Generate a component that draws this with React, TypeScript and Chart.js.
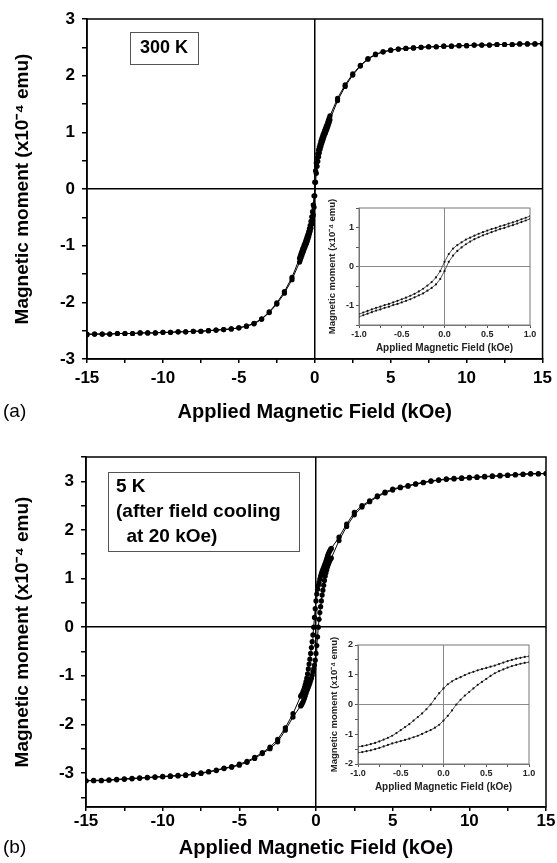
import { useEffect, useRef } from "react";
import { Chart, registerables } from "chart.js";

Chart.register(...registerables);

const FONT = '"Liberation Sans", Arial, Helvetica, sans-serif';

// ---------- Field values (kOe) ----------
const FIELD_OUTER_NEG = [-15, -14.5, -14, -13.5, -13, -12.5, -12, -11.5, -11, -10.5, -10, -9.5, -9, -8.5, -8, -7.5, -7, -6.5, -6, -5.5, -5, -4.5, -4, -3.5, -3, -2.5, -2, -1.5];
const FIELD_INNER = [-1, -0.95, -0.9, -0.85, -0.8, -0.75, -0.7, -0.65, -0.6, -0.55, -0.5, -0.45, -0.4, -0.35, -0.3, -0.25, -0.2, -0.15, -0.1, -0.05, 0, 0.05, 0.1, 0.15, 0.2, 0.25, 0.3, 0.35, 0.4, 0.45, 0.5, 0.55, 0.6, 0.65, 0.7, 0.75, 0.8, 0.85, 0.9, 0.95, 1];
const FIELD_OUTER_POS = [1.5, 2, 2.5, 3, 3.5, 4, 4.5, 5, 5.5, 6, 6.5, 7, 7.5, 8, 8.5, 9, 9.5, 10, 10.5, 11, 11.5, 12, 12.5, 13, 13.5, 14, 14.5, 15];

// ---------- (a) 300 K, moment (x1e-4 emu) ----------
const M300_DOWN_NEG = [-2.57, -2.56, -2.56, -2.56, -2.55, -2.55, -2.55, -2.54, -2.54, -2.54, -2.53, -2.53, -2.52, -2.52, -2.51, -2.51, -2.5, -2.49, -2.48, -2.47, -2.45, -2.42, -2.37, -2.29, -2.17, -2.01, -1.81, -1.56];
const M300_DOWN_INNER = [-1.22, -1.18, -1.14, -1.1, -1.06, -1.03, -0.99, -0.96, -0.92, -0.88, -0.84, -0.8, -0.75, -0.7, -0.64, -0.57, -0.49, -0.4, -0.28, -0.12, 0.12, 0.32, 0.46, 0.55, 0.62, 0.69, 0.74, 0.79, 0.84, 0.88, 0.92, 0.96, 0.99, 1.03, 1.06, 1.1, 1.13, 1.17, 1.21, 1.25, 1.29];
const M300_DOWN_POS = [1.6, 1.84, 2.03, 2.18, 2.3, 2.38, 2.42, 2.45, 2.47, 2.48, 2.49, 2.5, 2.51, 2.51, 2.52, 2.52, 2.53, 2.53, 2.54, 2.54, 2.54, 2.55, 2.55, 2.55, 2.56, 2.56, 2.56, 2.56];
const M300_UP_NEG = [-2.56, -2.56, -2.56, -2.56, -2.55, -2.55, -2.55, -2.54, -2.54, -2.54, -2.53, -2.53, -2.52, -2.52, -2.51, -2.51, -2.5, -2.49, -2.48, -2.47, -2.45, -2.42, -2.38, -2.3, -2.18, -2.03, -1.84, -1.6];
const M300_UP_INNER = [-1.29, -1.25, -1.21, -1.17, -1.13, -1.1, -1.06, -1.03, -0.99, -0.96, -0.92, -0.88, -0.84, -0.79, -0.74, -0.69, -0.62, -0.55, -0.46, -0.32, -0.12, 0.12, 0.28, 0.4, 0.49, 0.57, 0.64, 0.7, 0.75, 0.8, 0.84, 0.88, 0.92, 0.96, 0.99, 1.03, 1.06, 1.1, 1.14, 1.18, 1.22];
const M300_UP_POS = [1.56, 1.81, 2.01, 2.17, 2.29, 2.37, 2.42, 2.45, 2.47, 2.48, 2.49, 2.5, 2.51, 2.51, 2.52, 2.52, 2.53, 2.53, 2.54, 2.54, 2.54, 2.55, 2.55, 2.55, 2.56, 2.56, 2.56, 2.57];

// ---------- (b) 5 K after field cooling at 20 kOe ----------
const M5_DOWN_NEG = [-3.16, -3.15, -3.15, -3.14, -3.13, -3.12, -3.11, -3.1, -3.09, -3.08, -3.07, -3.06, -3.05, -3.04, -3.02, -3.0, -2.97, -2.94, -2.9, -2.87, -2.82, -2.76, -2.68, -2.58, -2.47, -2.31, -2.07, -1.78];
const M5_DOWN_INNER = [-1.42, -1.4, -1.37, -1.33, -1.29, -1.24, -1.18, -1.12, -1.05, -0.96, -0.86, -0.76, -0.66, -0.54, -0.42, -0.3, -0.16, 0.0, 0.2, 0.38, 0.54, 0.68, 0.78, 0.86, 0.92, 0.99, 1.05, 1.1, 1.15, 1.19, 1.23, 1.27, 1.31, 1.36, 1.41, 1.46, 1.5, 1.54, 1.57, 1.6, 1.62];
const M5_DOWN_POS = [1.85, 2.12, 2.36, 2.5, 2.6, 2.7, 2.78, 2.84, 2.88, 2.91, 2.95, 2.98, 3.01, 3.03, 3.05, 3.06, 3.07, 3.08, 3.09, 3.1, 3.11, 3.12, 3.13, 3.14, 3.15, 3.16, 3.16, 3.16];
const M5_UP_NEG = [-3.16, -3.16, -3.16, -3.15, -3.14, -3.13, -3.12, -3.11, -3.1, -3.09, -3.08, -3.07, -3.06, -3.05, -3.03, -3.01, -2.98, -2.95, -2.91, -2.88, -2.84, -2.78, -2.7, -2.6, -2.5, -2.36, -2.12, -1.85];
const M5_UP_INNER = [-1.62, -1.6, -1.57, -1.54, -1.5, -1.46, -1.41, -1.36, -1.31, -1.27, -1.23, -1.19, -1.15, -1.1, -1.05, -0.99, -0.92, -0.86, -0.78, -0.68, -0.54, -0.38, -0.2, 0.0, 0.16, 0.3, 0.42, 0.54, 0.66, 0.76, 0.86, 0.96, 1.05, 1.12, 1.18, 1.24, 1.29, 1.33, 1.37, 1.4, 1.42];
const M5_UP_POS = [1.78, 2.07, 2.31, 2.47, 2.58, 2.68, 2.76, 2.82, 2.87, 2.9, 2.94, 2.97, 3.0, 3.02, 3.04, 3.05, 3.06, 3.07, 3.08, 3.09, 3.1, 3.11, 3.12, 3.13, 3.14, 3.15, 3.15, 3.16];

// ---------- Ticks ----------
const MAIN_X_TICKS = [-15, -12.5, -10, -7.5, -5, -2.5, 0, 2.5, 5, 7.5, 10, 12.5, 15];
const MAIN_A_Y_TICKS = [-3, -2.5, -2, -1.5, -1, -0.5, 0, 0.5, 1, 1.5, 2, 2.5, 3];
const MAIN_B_Y_TICKS = [-3.5, -3, -2.5, -2, -1.5, -1, -0.5, 0, 0.5, 1, 1.5, 2, 2.5, 3, 3.5];
const INSET_X_TICKS = [-1, -0.75, -0.5, -0.25, 0, 0.25, 0.5, 0.75, 1];
const INSET_A_Y_TICKS = [-1.5, -1, -0.5, 0, 0.5, 1, 1.5];
const INSET_B_Y_TICKS = [-2, -1.5, -1, -0.5, 0, 0.5, 1, 1.5, 2];

const X_TITLE = "Applied Magnetic Field (kOe)";
const Y_TITLE = "Magnetic moment (x10\u207B\u2074 emu)";
const LABEL_A = ["300 K"];
const LABEL_B = ["5 K", "(after field cooling", "  at 20 kOe)"];

const pts = (xs: number[], ys: number[]) => xs.map((x, i) => ({ x, y: ys[i] }));
const isMult = (v: number, m: number) => Math.abs(v / m - Math.round(v / m)) < 1e-6;

function decor(spec: any) {
  return {
    id: "decor",
    afterDraw(chart: any) {
      const { ctx, chartArea: a } = chart;
      ctx.save();
      ctx.strokeStyle = spec.frameColor;
      ctx.lineWidth = spec.frameWidth;
      ctx.strokeRect(a.left, a.top, a.right - a.left, a.bottom - a.top);
      if (spec.box) {
        const b = spec.box;
        ctx.fillStyle = "#fff";
        ctx.fillRect(b.x, b.y, b.w, b.h);
        ctx.strokeStyle = "#555";
        ctx.lineWidth = 1;
        ctx.strokeRect(b.x + 0.5, b.y + 0.5, b.w, b.h);
        ctx.fillStyle = "#000";
        ctx.font = `bold ${b.size}px ${FONT}`;
        ctx.textBaseline = "middle";
        ctx.textAlign = b.align;
        b.lines.forEach((t: string, i: number) => ctx.fillText(t, b.tx, b.ty + i * b.lh));
      }
      if (spec.tag) {
        ctx.fillStyle = "#000";
        ctx.font = `${spec.tag.size}px ${FONT}`;
        ctx.textBaseline = "middle";
        ctx.textAlign = "left";
        ctx.fillText(spec.tag.text, spec.tag.x, spec.tag.y);
      }
      ctx.restore();
    },
  };
}

function mainConfig(p: any) {
  const zero = (c: any) => (c.tick && c.tick.value === 0 ? "#000" : "rgba(0,0,0,0)");
  return {
    type: "scatter",
    data: {
      datasets: p.series.map((s: any) => ({
        data: s,
        showLine: true,
        borderColor: "#000",
        borderWidth: 1,
        pointRadius: 2.6,
        pointBackgroundColor: "#000",
        pointBorderWidth: 0,
      })),
    },
    options: {
      responsive: false,
      animation: false,
      events: [],
      layout: { padding: { left: 0, top: p.top, right: p.right, bottom: 0 } },
      plugins: { legend: { display: false }, tooltip: { enabled: false } },
      scales: {
        x: {
          type: "linear",
          min: -15,
          max: 15,
          afterBuildTicks: (s: any) => { s.ticks = MAIN_X_TICKS.map((v) => ({ value: v })); },
          afterFit: (s: any) => { s.height = p.xHeight; },
          ticks: {
            autoSkip: false,
            maxRotation: 0,
            padding: p.xTickPad,
            color: "#000",
            font: { family: FONT, size: 17, weight: "bold" },
            callback: (v: number) => (isMult(v, 5) ? String(v) : ""),
          },
          grid: { color: zero, lineWidth: 1.5, tickLength: 4, tickColor: "#000", tickWidth: 1.5 },
          border: { color: "#000", width: 1.5 },
          title: {
            display: true,
            text: X_TITLE,
            color: "#000",
            font: { family: FONT, size: 20, weight: "bold" },
            padding: { top: 0, bottom: p.xTitlePad },
          },
        },
        y: {
          type: "linear",
          min: p.yMin,
          max: p.yMax,
          afterBuildTicks: (s: any) => { s.ticks = p.yTicks.map((v: number) => ({ value: v })); },
          afterFit: (s: any) => { s.width = p.yWidth; },
          ticks: {
            autoSkip: false,
            padding: 7,
            color: "#000",
            font: { family: FONT, size: 17, weight: "bold" },
            callback: (v: number) => (isMult(v, 1) ? String(v) : ""),
          },
          grid: { color: zero, lineWidth: 1.5, tickLength: 5, tickColor: "#000", tickWidth: 1.5 },
          border: { color: "#000", width: 1.5 },
          title: {
            display: true,
            text: Y_TITLE,
            color: "#000",
            font: { family: FONT, size: 19, weight: "bold" },
            padding: { top: 11, bottom: 0 },
          },
        },
      },
    },
    plugins: [decor(p.decor)],
  };
}

function insetConfig(p: any) {
  const zero = (c: any) => (c.tick && c.tick.value === 0 ? "#8a8a8a" : "rgba(0,0,0,0)");
  return {
    type: "scatter",
    data: {
      datasets: p.series.map((s: any) => ({
        data: s,
        showLine: true,
        borderColor: "#444",
        borderWidth: 0.9,
        pointRadius: 1.1,
        pointBackgroundColor: "#111",
        pointBorderWidth: 0,
      })),
    },
    options: {
      responsive: false,
      animation: false,
      events: [],
      layout: { padding: { left: 0, top: p.top, right: p.right, bottom: 0 } },
      plugins: { legend: { display: false }, tooltip: { enabled: false } },
      scales: {
        x: {
          type: "linear",
          min: -1,
          max: 1,
          afterBuildTicks: (s: any) => { s.ticks = INSET_X_TICKS.map((v) => ({ value: v })); },
          afterFit: (s: any) => { s.height = p.xHeight; },
          ticks: {
            autoSkip: false,
            maxRotation: 0,
            padding: 1,
            color: "#222",
            font: { family: FONT, size: 9, weight: "bold" },
            callback: (v: number) => (isMult(v, 0.5) ? v.toFixed(1) : ""),
          },
          grid: { color: zero, lineWidth: 1, tickLength: 3, tickColor: "#555" },
          border: { color: "#777", width: 1 },
          title: {
            display: true,
            text: X_TITLE,
            color: "#222",
            font: { family: FONT, size: 10, weight: "bold" },
            padding: { top: 0, bottom: p.xTitlePad },
          },
        },
        y: {
          type: "linear",
          min: p.yMin,
          max: p.yMax,
          afterBuildTicks: (s: any) => { s.ticks = p.yTicks.map((v: number) => ({ value: v })); },
          afterFit: (s: any) => { s.width = p.yWidth; },
          ticks: {
            autoSkip: false,
            padding: 2,
            color: "#222",
            font: { family: FONT, size: 9, weight: "bold" },
            callback: (v: number) => (isMult(v, 1) ? String(v) : ""),
          },
          grid: { color: zero, lineWidth: 1, tickLength: 3, tickColor: "#555" },
          border: { color: "#777", width: 1 },
          title: {
            display: true,
            text: Y_TITLE,
            color: "#222",
            font: { family: FONT, size: 9.5, weight: "bold" },
            padding: { top: p.yTitlePad, bottom: 0 },
          },
        },
      },
    },
    plugins: [decor({ frameColor: "#777", frameWidth: 1 })],
  };
}

function ChartCanvas({ config, left, top, width, height }: any) {
  const ref = useRef<HTMLCanvasElement>(null);
  useEffect(() => {
    const chart = new Chart(ref.current as HTMLCanvasElement, config());
    return () => chart.destroy();
  }, []);
  return (
    <canvas
      ref={ref}
      width={width}
      height={height}
      style={{ position: "absolute", left, top, width, height }}
    />
  );
}

const FIELD_ALL = [...FIELD_OUTER_NEG, ...FIELD_INNER, ...FIELD_OUTER_POS];

export default function App() {
  const a = () =>
    mainConfig({
      series: [
        pts(FIELD_ALL, [...M300_DOWN_NEG, ...M300_DOWN_INNER, ...M300_DOWN_POS]),
        pts(FIELD_ALL, [...M300_UP_NEG, ...M300_UP_INNER, ...M300_UP_POS]),
      ],
      top: 19,
      right: 11,
      xHeight: 71,
      yWidth: 87,
      xTickPad: 5,
      xTitlePad: 6,
      yMin: -3,
      yMax: 3,
      yTicks: MAIN_A_Y_TICKS,
      decor: {
        frameColor: "#000",
        frameWidth: 1.5,
        box: { x: 130, y: 32, w: 68, h: 32, lines: LABEL_A, size: 18, align: "center", tx: 164, ty: 48.5, lh: 25 },
        tag: { text: "(a)", x: 3, y: 412, size: 19 },
      },
    });
  const b = () =>
    mainConfig({
      series: [
        pts(FIELD_ALL, [...M5_DOWN_NEG, ...M5_DOWN_INNER, ...M5_DOWN_POS]),
        pts(FIELD_ALL, [...M5_UP_NEG, ...M5_UP_INNER, ...M5_UP_POS]),
      ],
      top: 27,
      right: 11,
      xHeight: 56,
      yWidth: 86,
      xTickPad: 0,
      xTitlePad: 3,
      yMin: -3.7,
      yMax: 3.5,
      yTicks: MAIN_B_Y_TICKS,
      decor: {
        frameColor: "#000",
        frameWidth: 1.5,
        box: { x: 108, y: 42, w: 191, h: 79, lines: LABEL_B, size: 19, align: "left", tx: 116, ty: 57, lh: 25 },
        tag: { text: "(b)", x: 3, y: 418, size: 19 },
      },
    });
  const ia = () =>
    insetConfig({
      series: [pts(FIELD_INNER, M300_DOWN_INNER), pts(FIELD_INNER, M300_UP_INNER)],
      top: 13,
      right: 20,
      xHeight: 35,
      yWidth: 39,
      xTitlePad: 6,
      yTitlePad: 7,
      yMin: -1.5,
      yMax: 1.5,
      yTicks: INSET_A_Y_TICKS,
    });
  const ib = () =>
    insetConfig({
      series: [pts(FIELD_INNER, M5_DOWN_INNER), pts(FIELD_INNER, M5_UP_INNER)],
      top: 13,
      right: 21,
      xHeight: 38,
      yWidth: 38,
      xTitlePad: 9,
      yTitlePad: 9,
      yMin: -2,
      yMax: 2,
      yTicks: INSET_B_Y_TICKS,
    });
  return (
    <div style={{ position: "absolute", left: 0, top: 0, width: 557, height: 863, background: "#fff", overflow: "hidden" }}>
      <ChartCanvas config={a} left={0} top={0} width={557} height={430} />
      <ChartCanvas config={b} left={0} top={430} width={557} height={433} />
      <ChartCanvas config={ia} left={320} top={195} width={230} height={165} />
      <ChartCanvas config={ib} left={320} top={632} width={230} height={170} />
    </div>
  );
}
